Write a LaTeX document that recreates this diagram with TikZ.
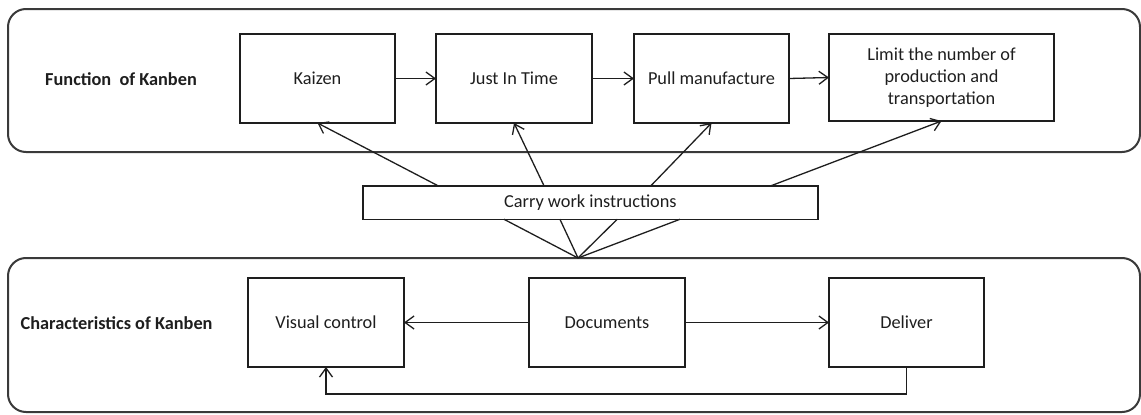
\documentclass[tikz,border=0pt]{standalone}
\usepackage{fontspec}
\setmainfont{Carlito}
\usetikzlibrary{arrows.meta,calc}

\definecolor{ink}{HTML}{1E1E1E}
\definecolor{frame}{HTML}{3A3A3A}

\tikzset{
  stepbox/.style={draw=ink, line width=1.5pt, inner sep=0pt, outer sep=0pt,
    minimum width=155pt, minimum height=89pt, align=center, text=ink,
    font=\fontsize{18.3}{22}\selectfont},
  panel/.style={draw=frame, line width=2pt, rounded corners=18pt,
    inner sep=0pt, outer sep=0pt, minimum width=1132pt},
  paneltitle/.style={anchor=west, inner sep=0pt, text=ink,
    font=\fontsize{18.3}{22}\selectfont\bfseries},
  arr/.style={draw=ink, line width=1.3pt,
    -{Straight Barb[length=9pt,width=13pt,line width=1.3pt]}},
  link/.style={draw=ink, line width=1.3pt}
}

\begin{document}
\begin{tikzpicture}[x=1pt,y=-1pt]
\useasboundingbox (0,0) rectangle (1141,415);

% the two panels
\node[panel, minimum height=143pt] (funcpanel) at (574,80.5) {};
\node[panel, minimum height=154pt] (charpanel) at (574,335) {};
\node[paneltitle] (functitle) at (45,79) {Function\ \ of Kanben};
\node[paneltitle] (chartitle) at (20.5,323) {Characteristics of Kanben};

% functions of Kanban
\node[stepbox] (kaizen) at (317.5,78.5) {Kaizen};
\node[stepbox, minimum width=156pt] (jit) at (514,78.5) {Just In Time};
\node[stepbox] (pull) at (711.5,78.5) {Pull manufacture};
\node[stepbox, minimum width=225pt, minimum height=87pt] (limit) at (941.5,77.5)
  {Limit the number of\\production and\\transportation};

% central box
\node[stepbox, minimum width=455pt, minimum height=33.5pt] (carry) at (590.4,202.5)
  {Carry work instructions};

% characteristics of Kanban
\node[stepbox, minimum width=156pt] (visual) at (326,322.5) {Visual control};
\node[stepbox, minimum width=156pt] (docs) at (607,322.5) {Documents};
\node[stepbox] (deliver) at (906.5,322.5) {Deliver};

% chain of functions
\draw[arr] (kaizen.east) -- (jit.west);
\draw[arr] (jit.east) -- (pull.west);
\draw[arr] (pull.east) -- (limit.west);

% carry box feeds every function
\draw[arr] ($(carry.north west)!0.165!(carry.north east)$) -- (kaizen.south);
\draw[arr] ($(carry.north west)!0.398!(carry.north east)$) -- (jit.south);
\draw[arr] ($(carry.north west)!0.633!(carry.north east)$) -- (pull.south);
\draw[arr] ($(carry.north west)!0.897!(carry.north east)$) -- (limit.south);

% fan from the characteristics panel
\coordinate (fan) at ($(charpanel.north)+(4,0)$);
\draw[link] ($(carry.south west)!0.310!(carry.south east)$) -- (fan);
\draw[link] ($(carry.south west)!0.433!(carry.south east)$) -- (fan);
\draw[link] ($(carry.south west)!0.559!(carry.south east)$) -- (fan);
\draw[link] ($(carry.south west)!0.697!(carry.south east)$) -- (fan);

% characteristics flow
\draw[arr] (docs.west) -- (visual.east);
\draw[arr] (docs.east) -- (deliver.west);
\draw[arr] (deliver.south) -- ++(0,27) -| (visual.south);
\end{tikzpicture}
\end{document}
